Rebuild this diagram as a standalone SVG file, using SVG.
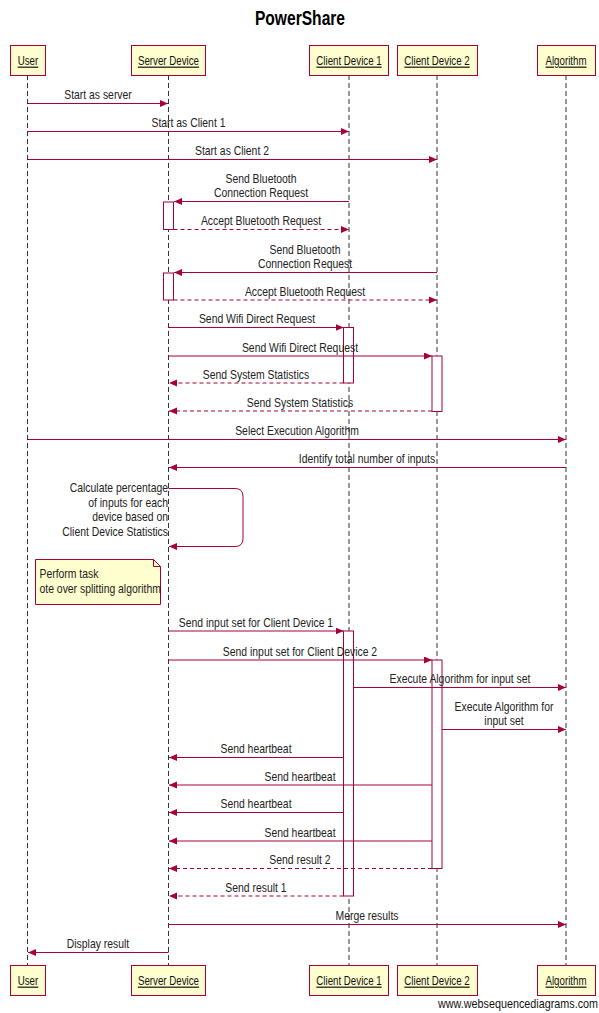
<svg xmlns="http://www.w3.org/2000/svg" width="599" height="1013" viewBox="0 0 599 1013">
<style>
text{font-family:"Liberation Sans",Arial,sans-serif;fill:#222}
.t{font-size:20px;font-weight:bold;fill:#000}
.p{font-size:12px;text-anchor:middle;text-decoration:underline;fill:#111}
.m{font-size:13px;text-anchor:middle}
.r{font-size:13px;text-anchor:end}
.n{font-size:13px}
.box{fill:#FEFECE;stroke:#A80036;stroke-width:1}
.life{stroke:#333;stroke-width:1;stroke-dasharray:5,3;fill:none}
.act{fill:#fff;stroke:#A80036;stroke-width:1}
.a{stroke:#A80036;stroke-width:1;fill:none;marker-end:url(#ah)}
.d{stroke:#A80036;stroke-width:1;fill:none;stroke-dasharray:4,3;marker-end:url(#ah)}
</style>
<defs>
<marker id="ah" markerUnits="userSpaceOnUse" markerWidth="9" markerHeight="8" refX="8" refY="3.5" orient="auto"><path d="M0,0 L8,3.5 L0,7 z" fill="#A80036"/></marker>
</defs>
<rect width="599" height="1013" fill="#fff"/>
<text class="t" x="384.6" y="25" text-anchor="middle" transform="scale(0.78,1)">PowerShare</text>
<g id="lifelines">
<line class="life" x1="27.5" y1="75" x2="27.5" y2="965"/>
<line class="life" x1="168.5" y1="75" x2="168.5" y2="965"/>
<line class="life" x1="349" y1="75" x2="349" y2="965"/>
<line class="life" x1="437" y1="75" x2="437" y2="965"/>
<line class="life" x1="566" y1="75" x2="566" y2="965"/>
</g>
<g id="user"><rect class="box" x="10.5" y="45.5" width="35" height="30"/>
<rect class="box" x="10.5" y="965.5" width="35" height="30"/>
<g transform="scale(0.81,1)"><text class="p" x="34.57" y="65.5">User</text><text class="p" x="34.57" y="985.5">User</text></g></g>
<g id="server"><rect class="box" x="131.5" y="45.5" width="74" height="30"/>
<rect class="box" x="131.5" y="965.5" width="74" height="30"/>
<g transform="scale(0.81,1)"><text class="p" x="208.02" y="65.5">Server Device</text><text class="p" x="208.02" y="985.5">Server Device</text></g></g>
<g id="client1"><rect class="box" x="309.5" y="45.5" width="79" height="30"/>
<rect class="box" x="309.5" y="965.5" width="79" height="30"/>
<g transform="scale(0.81,1)"><text class="p" x="430.86" y="65.5">Client Device 1</text><text class="p" x="430.86" y="985.5">Client Device 1</text></g></g>
<g id="client2"><rect class="box" x="397.5" y="45.5" width="80" height="30"/>
<rect class="box" x="397.5" y="965.5" width="80" height="30"/>
<g transform="scale(0.81,1)"><text class="p" x="539.51" y="65.5">Client Device 2</text><text class="p" x="539.51" y="985.5">Client Device 2</text></g></g>
<g id="algorithm"><rect class="box" x="537.5" y="45.5" width="58" height="30"/>
<rect class="box" x="537.5" y="965.5" width="58" height="30"/>
<g transform="scale(0.81,1)"><text class="p" x="698.77" y="65.5">Algorithm</text><text class="p" x="698.77" y="985.5">Algorithm</text></g></g>
<g id="activations">
<rect class="act" x="163.5" y="202" width="10" height="27.5"/>
<rect class="act" x="163.5" y="273" width="10" height="27"/>
<rect class="act" x="343.5" y="327.5" width="10" height="55.5"/>
<rect class="act" x="432" y="356" width="10" height="55.5"/>
<rect class="act" x="343.5" y="631" width="10" height="265"/>
<rect class="act" x="432" y="660" width="10" height="208.5"/>
</g>
<g id="note"><path class="box" d="M35.5,559.5 H153.5 L160.5,566.5 V604.5 H35.5 Z"/><path d="M153.5,559.5 V566.5 H160.5" fill="none" stroke="#A80036"/>
<g transform="scale(0.8,1)"><text class="n" x="49.4" y="578">Perform task</text><text class="n" x="49.4" y="593">ote over splitting algorithm</text></g></g>
<g id="connectors">
<path class="a" d="M28,103.5 H168"/>
<path class="a" d="M28,131.5 H349"/>
<path class="a" d="M28,159.5 H437"/>
<path class="a" d="M349,201.5 H174"/>
<path class="d" d="M173.5,229.5 H349"/>
<path class="a" d="M437,272.5 H174"/>
<path class="d" d="M173.5,300 H437"/>
<path class="a" d="M168.5,327.5 H343.5"/>
<path class="a" d="M168.5,356 H432"/>
<path class="d" d="M343.5,383 H169"/>
<path class="d" d="M432,411 H169"/>
<path class="a" d="M28,439.5 H566"/>
<path class="a" d="M566,467.5 H169"/>
<path class="a" d="M168.5,488.5 H235 Q243,488.5 243,496.5 V538.5 Q243,546.5 235,546.5 H169"/>
<path class="a" d="M168.5,631 H343.5"/>
<path class="a" d="M168.5,660 H432"/>
<path class="a" d="M353.5,687.5 H566"/>
<path class="a" d="M442,729.5 H566"/>
<path class="a" d="M343.5,757.5 H169"/>
<path class="a" d="M432,785 H169"/>
<path class="a" d="M343.5,812.5 H169"/>
<path class="a" d="M432,841 H169"/>
<path class="d" d="M432,868.5 H169"/>
<path class="d" d="M343.5,896 H169"/>
<path class="a" d="M168.5,924.5 H566"/>
<path class="a" d="M168.5,952.5 H28"/>
</g>
<g id="labels" transform="scale(0.8,1)">
<text class="m" x="122.5" y="99">Start as server</text>
<text class="m" x="235.6" y="127">Start as Client 1</text>
<text class="m" x="290" y="155">Start as Client 2</text>
<text class="m" x="326.25" y="183">Send Bluetooth</text>
<text class="m" x="326.25" y="197.5">Connection Request</text>
<text class="m" x="326.25" y="225.5">Accept Bluetooth Request</text>
<text class="m" x="381.25" y="254">Send Bluetooth</text>
<text class="m" x="381.25" y="268.5">Connection Request</text>
<text class="m" x="381.25" y="296">Accept Bluetooth Request</text>
<text class="m" x="321.25" y="323">Send Wifi Direct Request</text>
<text class="m" x="375" y="352">Send Wifi Direct Request</text>
<text class="m" x="320" y="379.5">Send System Statistics</text>
<text class="m" x="375" y="407">Send System Statistics</text>
<text class="m" x="371.25" y="435.5">Select Execution Algorithm</text>
<text class="m" x="458.75" y="463.5">Identify total number of inputs</text>
<text class="r" x="210" y="492">Calculate percentage</text>
<text class="r" x="210" y="507">of inputs for each</text>
<text class="r" x="210" y="521.5">device based on</text>
<text class="r" x="210" y="536">Client Device Statistics</text>
<text class="m" x="320" y="627">Send input set for Client Device 1</text>
<text class="m" x="375" y="656">Send input set for Client Device 2</text>
<text class="m" x="575" y="683">Execute Algorithm for input set</text>
<text class="m" x="630" y="711.5">Execute Algorithm for</text>
<text class="m" x="630" y="725.5">input set</text>
<text class="m" x="320" y="753.5">Send heartbeat</text>
<text class="m" x="375" y="781">Send heartbeat</text>
<text class="m" x="320" y="808.5">Send heartbeat</text>
<text class="m" x="375" y="837">Send heartbeat</text>
<text class="m" x="375" y="864">Send result 2</text>
<text class="m" x="320" y="892">Send result 1</text>
<text class="m" x="458.75" y="920">Merge results</text>
<text class="m" x="122.5" y="948">Display result</text>
</g>
<text class="r" x="720.5" y="1008" style="fill:#111" transform="scale(0.83,1)">www.websequencediagrams.com</text>
</svg>
